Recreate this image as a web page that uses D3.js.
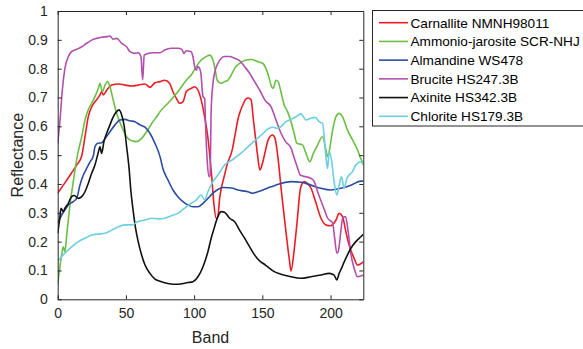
<!DOCTYPE html>
<html>
<head>
<meta charset="utf-8">
<script src="https://cdn.jsdelivr.net/npm/d3@7"></script>
<style>
html,body{margin:0;padding:0;background:#fff;}
svg{display:block;font-family:"Liberation Sans",Arial,Helvetica,sans-serif;}
</style>
</head>
<body>
<svg id="chart" width="583" height="349"></svg>
<script>
// ---------------- DATA ----------------
const seriesNames = ["Carnallite NMNH98011","Ammonio-jarosite SCR-NHJ","Almandine WS478","Brucite HS247.3B","Axinite HS342.3B","Chlorite HS179.3B"];
const seriesColors = ["#EC1C24","#6BBF45","#2D4C9E","#B24FAE","#111111","#6CCFE0"];

const xTicks = [0,50,100,150,200];
const yTicks = [0,0.1,0.2,0.3,0.4,0.5,0.6,0.7,0.8,0.9,1];
const yTickLabels = ["0","0.1","0.2","0.3","0.4","0.5","0.6","0.7","0.8","0.9","1"];

const carnalliteBand = [0,5,10,14,17.6,20,22.4,25,27.3,31,32.2,33.4,36,39.6,44.4,49.3,54.2,59,64,67.6,71.3,75,78.4,82,84.5,87,89.4,91.8,94.2,95.5,98,100.4,102.8,105.2,107.7,110,111.3,113,114.5,116.2,117.4,118.7,120,122.3,124.8,126,128,130,132,134,135.7,138,139.7,141.8,143.5,145,146.5,148.2,150,152,154.3,157.5,159.2,160.4,161.5,164,167,170,171,173.3,175.5,178,180.7,183,185.6,189,192.9,196.6,200,204,206.3,208.8,211.2,213.6,217.3,219.8,224];
const carnalliteVal  = [0.368,0.402,0.437,0.466,0.497,0.564,0.633,0.668,0.685,0.709,0.72,0.709,0.726,0.743,0.747,0.743,0.74,0.743,0.747,0.735,0.751,0.755,0.76,0.749,0.72,0.697,0.68,0.685,0.72,0.726,0.732,0.737,0.726,0.691,0.633,0.564,0.507,0.42,0.33,0.28,0.287,0.35,0.386,0.431,0.477,0.49,0.52,0.57,0.622,0.655,0.674,0.695,0.698,0.691,0.62,0.56,0.5,0.449,0.47,0.51,0.553,0.57,0.56,0.53,0.49,0.373,0.247,0.13,0.098,0.17,0.27,0.386,0.408,0.402,0.386,0.339,0.282,0.258,0.255,0.275,0.298,0.287,0.235,0.188,0.142,0.119,0.13];

const jarositeBand = [0,2.9,4.1,5.3,6.6,9,11.4,14.5,17.6,20,22.4,24.9,27.3,29.8,31,32.7,34.7,36.6,38.3,40.7,43.2,46.9,50.5,54.2,57.9,61.5,65.2,68.9,72.5,75,80.8,88.1,95.5,97.9,101.5,105.2,108.9,111.3,113.8,115.5,116.9,119.9,122.3,124.8,127.2,129.7,133.3,137,141.8,146.7,150.4,152.6,155,156.8,158,160,161.6,163.6,166,168.5,171,173.3,175.3,177,179.5,182,184.8,187.3,190,194.1,196.6,197.8,198.9,201.5,203.9,206.3,208.8,212.4,216.1,219.8,222,224];
const jarositeVal  = [0.05,0.154,0.182,0.165,0.223,0.327,0.408,0.5,0.564,0.622,0.657,0.68,0.703,0.732,0.749,0.72,0.743,0.755,0.737,0.691,0.645,0.599,0.564,0.55,0.547,0.558,0.581,0.61,0.633,0.651,0.68,0.72,0.767,0.778,0.807,0.83,0.842,0.847,0.83,0.795,0.76,0.749,0.755,0.76,0.778,0.801,0.818,0.828,0.832,0.824,0.818,0.801,0.767,0.737,0.732,0.76,0.755,0.72,0.674,0.651,0.616,0.576,0.541,0.539,0.535,0.506,0.477,0.505,0.53,0.564,0.518,0.495,0.51,0.587,0.633,0.645,0.633,0.587,0.553,0.518,0.49,0.47];

const almandineBand = [0,2.9,5.3,7.8,11.4,13.9,16.3,18.8,21.2,23.7,26.1,27.3,29.3,32.2,34.7,38.3,42,45.6,49.3,53,56.6,60.3,64,67.6,71.3,75,77.1,80.8,84.5,88.1,91.8,95.5,99.1,102.8,106.5,110.1,113.8,117.4,121.1,124.8,128.4,132.1,135.8,139.4,143.1,146.7,150.4,156.3,163.6,171,178.3,185.6,192.9,200.2,207.5,214.9,222.2,224];
const almandineVal  = [0.264,0.292,0.31,0.327,0.339,0.35,0.396,0.431,0.454,0.477,0.497,0.529,0.541,0.543,0.558,0.581,0.605,0.622,0.624,0.619,0.616,0.605,0.597,0.576,0.541,0.495,0.454,0.414,0.379,0.356,0.339,0.327,0.321,0.321,0.333,0.35,0.368,0.381,0.388,0.387,0.385,0.379,0.376,0.373,0.368,0.373,0.379,0.39,0.402,0.408,0.406,0.396,0.385,0.379,0.385,0.396,0.41,0.41];

const bruciteBand = [0,1.7,3.4,5.3,7.8,10.2,13.9,17.6,21.2,24.9,28.6,32.2,35.9,38.3,40.7,43.2,46.9,50.5,53,56.6,59,61,62.3,63.4,66.4,70,75,78.4,83.2,88.1,91,92.5,94.2,97.9,99.1,100.4,101.5,102.8,104.8,106.5,107.7,108.4,109.6,111,111.7,112.5,113.8,115.5,117.4,119.9,122.3,126,129.7,133.3,137,140.7,144.3,148,152,156.3,160,163.6,167,171,173,175.5,178,182,185.5,188,190.5,195,197.8,201.5,203,204.6,205.6,207.5,208.8,211,212.9,215,217.3,219.8,224];
const bruciteVal  = [0.541,0.622,0.726,0.801,0.842,0.859,0.867,0.876,0.888,0.899,0.905,0.909,0.911,0.913,0.902,0.905,0.888,0.876,0.859,0.853,0.855,0.842,0.761,0.847,0.853,0.855,0.855,0.865,0.871,0.871,0.867,0.853,0.862,0.859,0.842,0.807,0.795,0.807,0.789,0.703,0.697,0.6,0.48,0.425,0.43,0.657,0.749,0.795,0.818,0.836,0.842,0.842,0.836,0.828,0.807,0.784,0.755,0.726,0.69,0.668,0.622,0.577,0.547,0.525,0.495,0.46,0.43,0.425,0.42,0.408,0.373,0.317,0.282,0.265,0.213,0.16,0.165,0.235,0.28,0.287,0.235,0.154,0.108,0.078,0.084];

const axiniteBand = [0,1.5,2.4,4.1,5.3,7.8,10.2,12.2,15.1,17.6,20,22.4,24.9,27.3,29.8,31,32.2,33.9,35.9,38.3,40.7,43.2,44.9,46.9,48.8,50.5,52.2,53.7,55.4,57.1,59,61.5,64,67.6,71.3,75,80.8,88.1,95.5,99.1,102.8,106.5,110.1,112.5,115,117.4,119.9,122.3,126,129.7,133.3,137,140.7,144.3,148,150.4,153.8,158.7,163.6,171,178.3,185.6,192.9,199,202.6,204.6,206.3,207.5,210,212.4,214.9,218.5,222.2,224];
const axiniteVal  = [0.229,0.281,0.316,0.304,0.316,0.333,0.356,0.36,0.35,0.356,0.373,0.402,0.437,0.466,0.51,0.529,0.506,0.547,0.576,0.605,0.633,0.651,0.657,0.639,0.599,0.53,0.46,0.373,0.304,0.246,0.2,0.154,0.119,0.09,0.07,0.063,0.055,0.052,0.058,0.061,0.078,0.113,0.165,0.212,0.252,0.287,0.304,0.302,0.281,0.269,0.24,0.212,0.182,0.154,0.133,0.125,0.113,0.096,0.087,0.078,0.073,0.078,0.084,0.09,0.084,0.067,0.09,0.102,0.13,0.154,0.177,0.2,0.217,0.225];

const chloriteBand = [0,5.3,10.2,15.1,20,24.9,29.8,34.7,39.6,44.4,49.3,54.2,59,64,68.9,73.7,78.4,83.2,88.1,93,97.9,101.5,105.2,107.7,110.1,113.8,117.4,122.3,128.4,133.9,139.4,145,150.4,153.8,157.5,161.2,163.6,167.3,171,174.6,178.3,182,185.6,188.8,191.7,194.2,195.3,196.6,197.8,199,200.7,202.6,204.6,206.3,208,210,212,213.6,216.1,218.5,222.2,224];
const chloriteVal  = [0.133,0.16,0.182,0.2,0.212,0.223,0.226,0.229,0.24,0.252,0.258,0.258,0.27,0.275,0.281,0.279,0.281,0.29,0.298,0.316,0.333,0.344,0.362,0.344,0.373,0.408,0.431,0.466,0.485,0.505,0.529,0.552,0.575,0.59,0.597,0.593,0.599,0.616,0.624,0.633,0.643,0.622,0.628,0.631,0.616,0.61,0.564,0.495,0.454,0.512,0.483,0.408,0.362,0.396,0.425,0.385,0.42,0.431,0.443,0.466,0.477,0.466];

const bandArrays = [carnalliteBand, jarositeBand, almandineBand, bruciteBand, axiniteBand, chloriteBand];
const valArrays  = [carnalliteVal, jarositeVal, almandineVal, bruciteVal, axiniteVal, chloriteVal];

// ---------------- CHART ----------------
const svg = d3.select("#chart");
const L = 57.7, R = 363.3, T = 11, B = 299.3;
const x = d3.scaleLinear().domain([0,224]).range([L,R]);
const y = d3.scaleLinear().domain([0,1]).range([B,T]);
const axisColor = "#262626";

svg.append("defs").append("clipPath").attr("id","clip")
  .append("rect").attr("x",L).attr("y",T).attr("width",R-L).attr("height",B-T);

const line = d3.line().x(d=>x(d[0])).y(d=>y(d[1])).curve(d3.curveMonotoneX);
const gLines = svg.append("g").attr("clip-path","url(#clip)");
bandArrays.forEach((bands,i)=>{
  const pts = bands.map((b,j)=>[b, valArrays[i][j]]);
  gLines.append("path").datum(pts)
    .attr("d", line)
    .attr("fill","none")
    .attr("stroke", seriesColors[i])
    .attr("stroke-width",1.6)
    .attr("stroke-linejoin","round");
});

const fontSize = 14;
const xAxisB = d3.axisBottom(x).tickValues(xTicks).tickSizeInner(-4).tickSizeOuter(0).tickPadding(9).tickFormat(d3.format("d"));
const xAxisT = d3.axisTop(x).tickValues(xTicks).tickSizeInner(-4).tickSizeOuter(0).tickFormat("");
const yAxisL = d3.axisLeft(y).tickValues(yTicks).tickSizeInner(-4).tickSizeOuter(0).tickPadding(10).tickFormat((d,i)=>yTickLabels[i]);
const yAxisR = d3.axisRight(y).tickValues(yTicks).tickSizeInner(-4).tickSizeOuter(0).tickFormat("");

function style(g){
  g.selectAll("path.domain").attr("stroke",axisColor).attr("stroke-width",1);
  g.selectAll(".tick line").attr("stroke",axisColor).attr("stroke-width",1);
  g.selectAll(".tick text").attr("fill",axisColor).attr("font-size",fontSize)
    .attr("font-family","'Liberation Sans',Arial,Helvetica,sans-serif");
}
svg.append("g").attr("transform",`translate(0,${B})`).call(xAxisB).call(style);
svg.append("g").attr("transform",`translate(0,${T})`).call(xAxisT).call(style);
svg.append("g").attr("transform",`translate(${L},0)`).call(yAxisL).call(style);
svg.append("g").attr("transform",`translate(${R},0)`).call(yAxisR).call(style);

svg.append("text").attr("x",(L+R)/2).attr("y",343).attr("text-anchor","middle")
  .attr("font-size",16).attr("fill",axisColor).text("Band");
svg.append("text").attr("transform",`translate(23,${(T+B)/2}) rotate(-90)`).attr("text-anchor","middle")
  .attr("font-size",16).attr("fill",axisColor).text("Reflectance");

const lg = svg.append("g");
lg.append("rect").attr("x",372.5).attr("y",10.5).attr("width",215).attr("height",115.5)
  .attr("fill","#fff").attr("stroke",axisColor).attr("stroke-width",1);
seriesNames.forEach((name,i)=>{
  const cy = 22.7 + i*18.72;
  lg.append("line").attr("x1",379).attr("x2",408).attr("y1",cy).attr("y2",cy)
    .attr("stroke",seriesColors[i]).attr("stroke-width",1.6);
  lg.append("text").attr("x",410.5).attr("y",cy).attr("dy","0.36em")
    .attr("font-size",13.6).attr("fill","#000").text(name);
});
</script>
</body>
</html>
